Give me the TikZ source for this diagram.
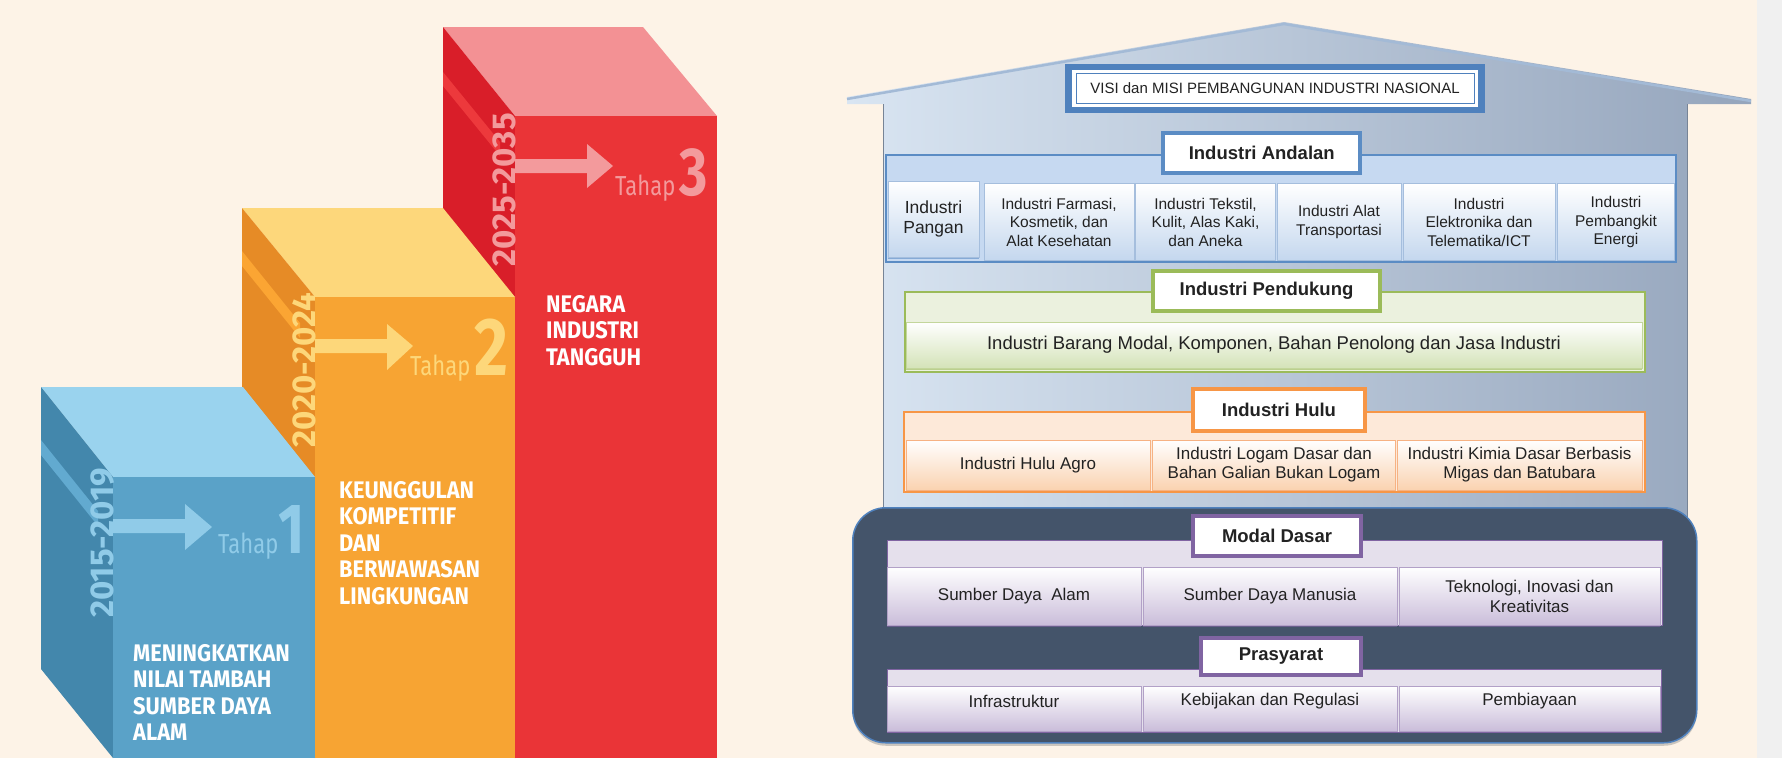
\documentclass[tikz,border=0pt]{standalone}
\usepackage{fontspec}
\setmainfont{Liberation Sans}
\newfontfamily\firab[FakeStretch=0.91]{Fira Sans}
\newfontfamily\firay{Fira Sans}
\newfontfamily\firal[FakeStretch=0.80]{Fira Sans}
\usetikzlibrary{shadows}
\definecolor{bg}{HTML}{FDF3E7}
\definecolor{strip}{HTML}{F0F0F0}
\definecolor{bFront}{HTML}{5AA2C8}
\definecolor{bSide}{HTML}{4387AC}
\definecolor{bTop}{HTML}{9AD3EE}
\definecolor{bStripe}{HTML}{62AAD0}
\definecolor{bLight}{HTML}{90CBE8}
\definecolor{oFront}{HTML}{F7A433}
\definecolor{oSide}{HTML}{E68B26}
\definecolor{oTop}{HTML}{FDD77B}
\definecolor{oStripe}{HTML}{FBA533}
\definecolor{oLight}{HTML}{FDD77A}
\definecolor{rFront}{HTML}{EA3437}
\definecolor{rSide}{HTML}{D91E29}
\definecolor{rTop}{HTML}{F39194}
\definecolor{rStripe}{HTML}{ED393C}
\definecolor{rLight}{HTML}{F39A9C}
\definecolor{houseL}{HTML}{D9E5F2}
\definecolor{houseM}{HTML}{C3D2E4}
\definecolor{houseR}{HTML}{95A5BC}
\definecolor{roofLine}{HTML}{A3BAD6}
\definecolor{visiB}{HTML}{4F81BD}
\definecolor{andB}{HTML}{5B8CC4}
\definecolor{andF}{HTML}{C6D9F1}
\definecolor{andC}{HTML}{C4D7EE}
\definecolor{andCB}{HTML}{A5BEDD}
\definecolor{penB}{HTML}{9BBB59}
\definecolor{penF}{HTML}{EBF1DE}
\definecolor{penC}{HTML}{D4E3B8}
\definecolor{penCB}{HTML}{C3D69B}
\definecolor{hulB}{HTML}{F79646}
\definecolor{hulF}{HTML}{FDE9D9}
\definecolor{hulC}{HTML}{FAD2B0}
\definecolor{hulCB}{HTML}{F6B283}
\definecolor{darkbox}{HTML}{44546A}
\definecolor{boxB}{HTML}{4F81BD}
\definecolor{modB}{HTML}{8064A2}
\definecolor{modF}{HTML}{E5E0EC}
\definecolor{modC}{HTML}{CABDDA}
\definecolor{modCB}{HTML}{B2A1C7}
\definecolor{txtdark}{HTML}{222222}
\begin{document}
\begin{tikzpicture}[x=1pt,y=-1pt,
  yeartxt/.style={rotate=90, anchor=base, inner sep=0pt, font=\firay\bfseries\fontsize{33}{33}\selectfont},
  tahaptxt/.style={anchor=base west, inner sep=0pt, font=\firal\fontsize{27.5}{27.5}\selectfont},
  numtxt/.style={anchor=base west, inner sep=0pt, font=\firal\bfseries\fontsize{#1}{#1}\selectfont},
  goaltxt/.style={anchor=north west, inner sep=0pt, align=left, text=white, font=\firab\bfseries\fontsize{24}{26.5}\selectfont},
  band/.style={draw=#1, line width=1.5pt, anchor=north west, inner sep=0pt},
  lblbox/.style={draw=#1, line width=4pt, fill=white, inner sep=0pt, text=txtdark, font=\bfseries\fontsize{18.5}{22}\selectfont},
  cellbox/.style n args={3}{draw=#1, line width=0.6pt, top color=white, bottom color=#2, inner sep=0pt, align=center, text=txtdark,
     drop shadow={shadow xshift=0pt, shadow yshift=-2pt, opacity=0.6, fill=#3}},
  celltxt/.style={inner sep=0pt, align=center, text=txtdark}
]
\useasboundingbox (0,0) rectangle (1782,758);
\fill[bg] (0,0) rectangle (1782,758);
\fill[strip] (1757,0) rectangle (1782,758);

% ---------- red block ----------
\fill[rTop] (443,27) -- (643,27) -- (717,116) -- (515,116) -- cycle;
\fill[rSide] (443,27) -- (515,116) -- (515,758) -- (443,669) -- cycle;
\fill[rStripe] (443,72) -- (500,142) -- (500,156) -- (443,86) -- cycle;
\fill[rFront] (515,116) rectangle (717,758);
\fill[rLight] (515,159) -- (587,159) -- (587,144) -- (613,166) -- (587,188) -- (587,173) -- (515,173) -- cycle;
\node[yeartxt, text=rLight] (y3) at (515,190) {2025-2035};
\node[tahaptxt, text=rLight] (t3) at (615,195) {Tahap};
\node[numtxt=68, text=rLight] (n3) at (679,195) {3};
\node[goaltxt] (g3) at (546,295) {NEGARA\\INDUSTRI\\TANGGUH};

% ---------- orange block ----------
\fill[oTop] (242,208) -- (443,208) -- (515,297) -- (315,297) -- cycle;
\fill[oSide] (242,208) -- (315,297) -- (315,758) -- (242,669) -- cycle;
\fill[oStripe] (242,251) -- (300,323) -- (300,338) -- (242,266) -- cycle;
\fill[oFront] (315,297) rectangle (515,758);
\fill[oLight] (315,339) -- (387,339) -- (387,324) -- (413,346) -- (387,370) -- (387,353) -- (315,353) -- cycle;
\node[yeartxt, text=oLight] (y2) at (315,370) {2020-2024};
\node[tahaptxt, text=oLight] (t2) at (410,375) {Tahap};
\node[numtxt=82, text=oLight] (n2) at (474,375) {2};
\node[goaltxt] (g2) at (339,481) {KEUNGGULAN\\KOMPETITIF\\DAN\\BERWAWASAN\\LINGKUNGAN};

% ---------- blue block ----------
\fill[bTop] (41,387) -- (243,387) -- (315,477) -- (113,477) -- cycle;
\fill[bSide] (41,387) -- (113,477) -- (113,758) -- (41,669) -- cycle;
\fill[bStripe] (41,440) -- (98,511) -- (98,526) -- (41,455) -- cycle;
\fill[bFront] (113,477) rectangle (315,758);
\fill[bLight] (113,519) -- (185,519) -- (185,504) -- (212,527) -- (185,550) -- (185,533) -- (113,533) -- cycle;
\node[yeartxt, text=bLight] (y1) at (113,543) {2015-2019};
\node[tahaptxt, text=bLight] (t1) at (218,553) {Tahap};
\node[numtxt=71, text=bLight] (n1) at (278,553) {1};
\node[goaltxt] (g1) at (133,644) {MENINGKATKAN\\NILAI TAMBAH\\SUMBER DAYA\\ALAM};

% ---------- house ----------
\shade[left color=houseL, middle color=houseM, right color=houseR]
  (847,97) -- (1284,22) -- (1751,99) -- (1751,104) -- (1687,104) -- (1687,545)
  -- (883,545) -- (883,104) -- (847,104) -- cycle;
\draw[roofLine, line width=2.5pt, line join=miter] (847,99) -- (1284,24) -- (1751,101);
\draw[houseR!80!black, line width=0.6pt] (883,104) -- (883,545);
\draw[houseR!80!black, line width=0.6pt] (1687,104) -- (1687,545);

% VISI box
\node[fill=visiB, minimum width=420pt, minimum height=49pt, anchor=north west, inner sep=0pt] (visiouter) at (1065,64) {};
\node[fill=white, minimum width=406pt, minimum height=37pt, inner sep=0pt] (visiinner) at (1275,88.5) {};
\node[draw=visiB, line width=0.8pt, minimum width=398pt, minimum height=30pt, inner sep=0pt, text=txtdark,
      font=\fontsize{15}{18}\selectfont] (visi) at (1275,88.5) {VISI dan MISI PEMBANGUNAN INDUSTRI NASIONAL};

% Industri Andalan
\node[band=andB, fill=andF, minimum width=790pt, minimum height=107pt] (andband) at (885,154) {};
\begin{scope}[every node/.append style={font=\fontsize{15.5}{18.5}\selectfont}]
\node[cellbox={andCB}{andC}{andB}, minimum width=91pt, minimum height=76pt, font=\fontsize{17.5}{20}\selectfont] (a1) at (933.5,219) {Industri\\Pangan};
\node[cellbox={andCB}{andC}{andB}, minimum width=150pt, minimum height=77pt] (a2) at (1059,222) {Industri Farmasi,\\Kosmetik, dan\\Alat Kesehatan};
\node[cellbox={andCB}{andC}{andB}, minimum width=140pt, minimum height=77pt] (a3) at (1205.5,222) {Industri Tekstil,\\Kulit, Alas Kaki,\\dan Aneka};
\node[cellbox={andCB}{andC}{andB}, minimum width=124pt, minimum height=77pt] (a4) at (1339,222) {Industri Alat\\Transportasi};
\node[cellbox={andCB}{andC}{andB}, minimum width=152pt, minimum height=77pt] (a5) at (1479,222) {Industri\\Elektronika dan\\Telematika/ICT};
\node[cellbox={andCB}{andC}{andB}, minimum width=117pt, minimum height=77pt] (a6) at (1616,222) {Industri\\Pembangkit\\Energi};
\end{scope}
\node[lblbox=andB, minimum width=197pt, minimum height=40pt] (andlbl) at (1261.75,153) {Industri Andalan};

% Industri Pendukung
\node[band=penB, fill=penF, minimum width=740pt, minimum height=80pt] (penband) at (904,291) {};
\node[cellbox={penCB}{penC}{penB}, minimum width=736pt, minimum height=46pt, font=\fontsize{18.5}{22}\selectfont] (p1) at (1274,345) {Industri Barang Modal, Komponen, Bahan Penolong dan Jasa Industri};
\node[lblbox=penB, minimum width=227pt, minimum height=40pt] (penlbl) at (1266.5,291) {Industri Pendukung};

% Industri Hulu
\node[band=hulB, fill=hulF, minimum width=741pt, minimum height=80pt] (hulband) at (903,411) {};
\begin{scope}[every node/.append style={font=\fontsize{17}{19}\selectfont}]
\node[cellbox={hulCB}{hulC}{hulB}, minimum width=244pt, minimum height=50pt] (h1) at (1028,465) {Industri Hulu Agro};
\node[cellbox={hulCB}{hulC}{hulB}, minimum width=243pt, minimum height=50pt] (h2) at (1274,465) {Industri Logam Dasar dan\\Bahan Galian Bukan Logam};
\node[cellbox={hulCB}{hulC}{hulB}, minimum width=245pt, minimum height=50pt] (h3) at (1519.5,465) {Industri Kimia Dasar Berbasis\\Migas dan Batubara};
\end{scope}
\node[lblbox=hulB, minimum width=172pt, minimum height=42pt] (hullbl) at (1279,410) {Industri Hulu};

% Base box
\node[draw=boxB, line width=1.5pt, fill=darkbox, rounded corners=33pt, minimum width=844pt, minimum height=235pt,
      anchor=north west, inner sep=0pt, drop shadow={shadow xshift=0pt, shadow yshift=-3pt, opacity=0.4}] (basebox) at (852,507) {};

% Modal Dasar
\node[band=modB, line width=1pt, fill=modF, minimum width=775pt, minimum height=85pt] (modband) at (887,540) {};
\begin{scope}[every node/.append style={font=\fontsize{17}{20}\selectfont}]
\node[cellbox={modCB}{modC}{modB}, minimum width=254pt, minimum height=58pt] (m1) at (1014,596) {Sumber Daya\ \ Alam};
\node[cellbox={modCB}{modC}{modB}, minimum width=254pt, minimum height=58pt] (m2) at (1270,596) {Sumber Daya Manusia};
\node[cellbox={modCB}{modC}{modB}, minimum width=261pt, minimum height=58pt] (m3) at (1529.5,596) {Teknologi, Inovasi dan\\Kreativitas};
\end{scope}
\node[lblbox=modB, minimum width=168pt, minimum height=40pt] (modlbl) at (1277,536) {Modal Dasar};

% Prasyarat
\node[band=modB, line width=1pt, fill=modF, minimum width=774pt, minimum height=63pt] (praband) at (887,669) {};
\node[cellbox={modCB}{modC}{modB}, minimum width=254pt, minimum height=45pt] (r1) at (1014,708.5) {};
\node[cellbox={modCB}{modC}{modB}, minimum width=254pt, minimum height=45pt] (r2) at (1270,708.5) {};
\node[cellbox={modCB}{modC}{modB}, minimum width=261pt, minimum height=45pt] (r3) at (1529.5,708.5) {};
\begin{scope}[every node/.append style={font=\fontsize{17}{20}\selectfont}]
\node[celltxt] (r1t) at (1014,701) {Infrastruktur};
\node[celltxt] (r2t) at (1270,701) {Kebijakan dan Regulasi};
\node[celltxt] (r3t) at (1529.5,701) {Pembiayaan};
\end{scope}
\node[lblbox=modB, minimum width=160pt, minimum height=37pt] (pralbl) at (1281,656.5) {Prasyarat};
\end{tikzpicture}
\end{document}
